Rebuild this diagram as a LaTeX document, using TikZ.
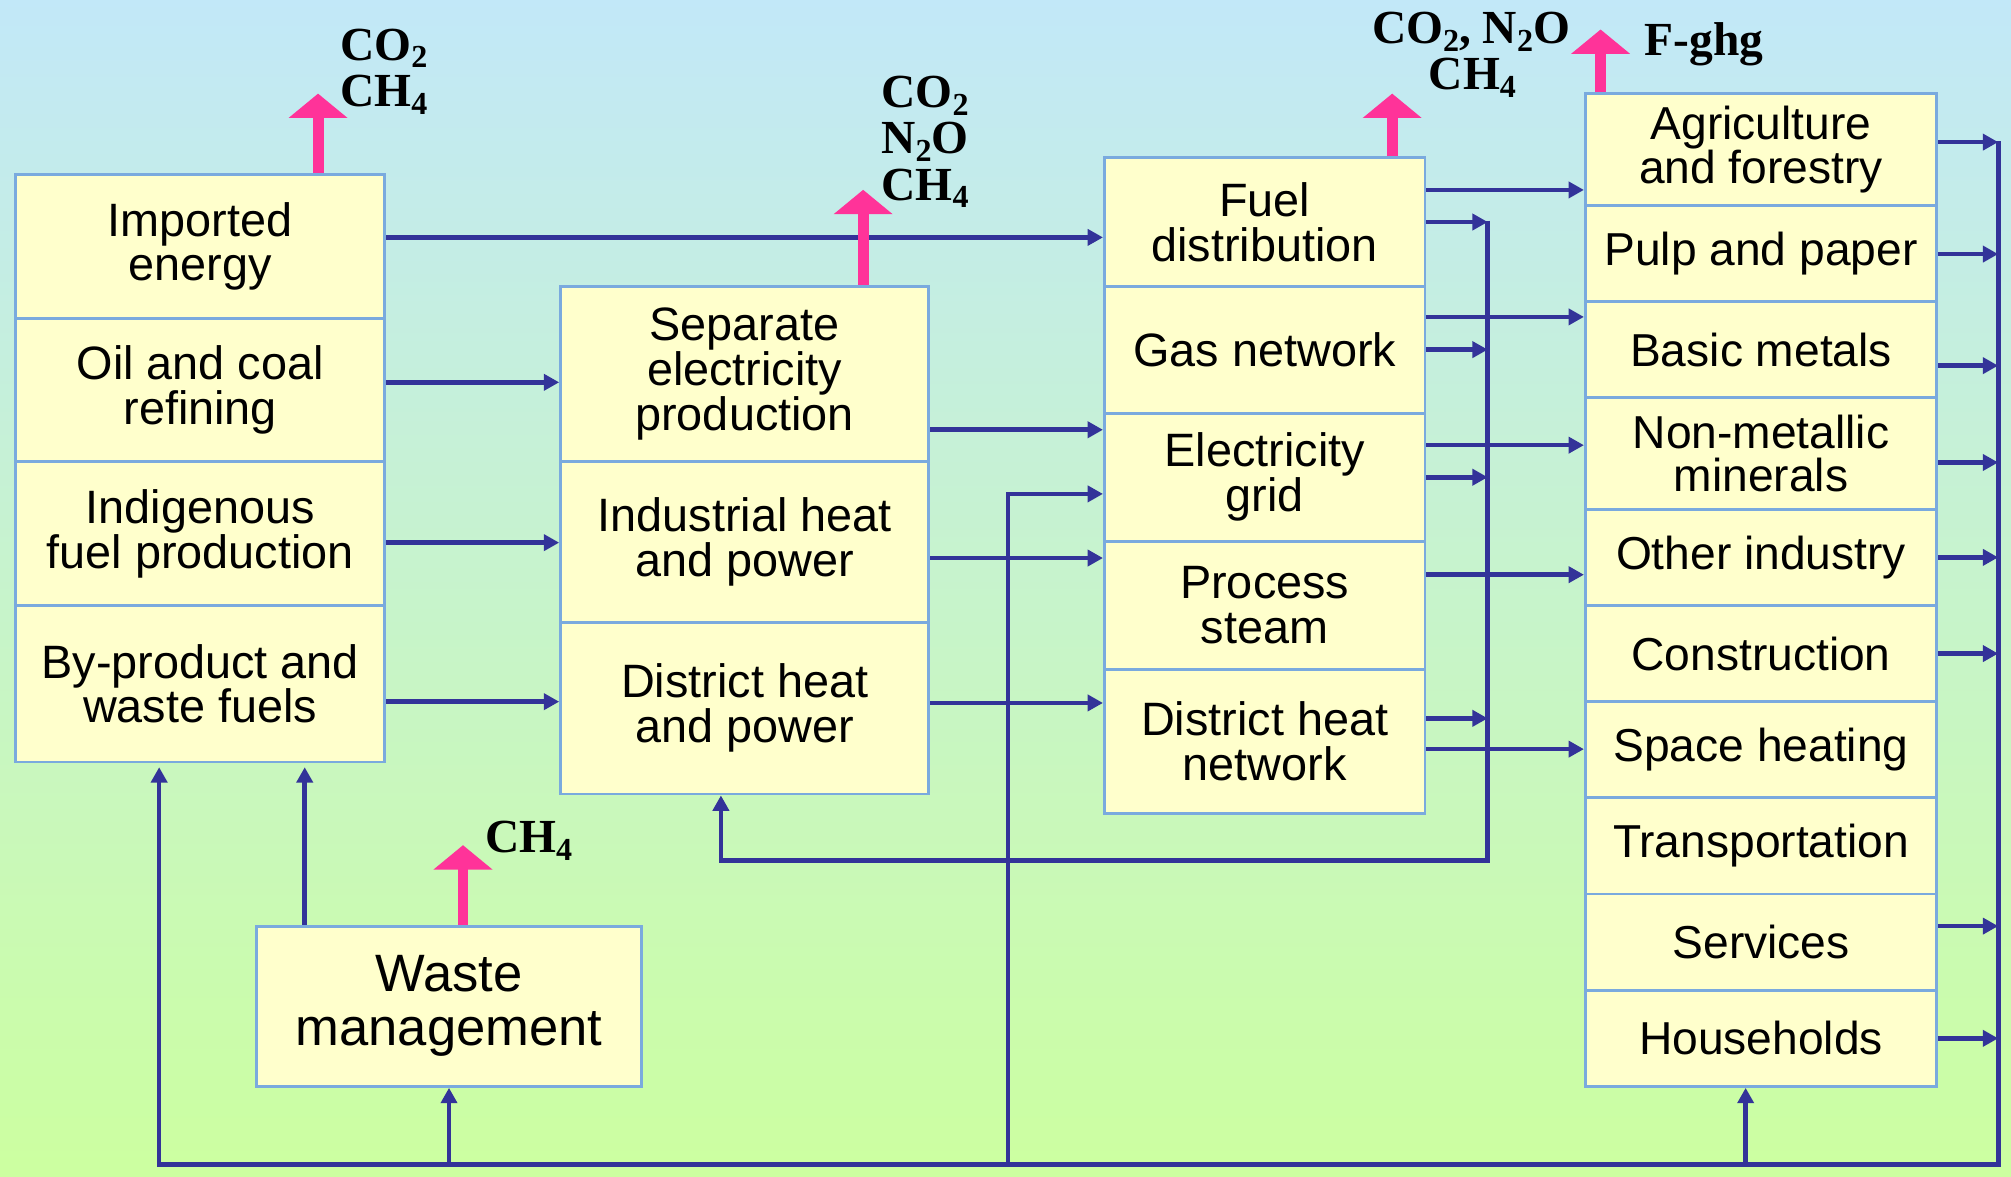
\documentclass[tikz,border=0pt]{standalone}
\usepackage{fontspec}
\setmainfont{Liberation Sans}
\newfontfamily\chemfont{Liberation Serif}
\usetikzlibrary{arrows.meta}
\definecolor{bgtop}{RGB}{194,232,248}
\definecolor{bgbot}{RGB}{204,255,160}
\definecolor{cellfill}{RGB}{255,255,204}
\definecolor{cellline}{RGB}{122,170,222}
\definecolor{flow}{RGB}{51,51,153}
\definecolor{emit}{RGB}{255,51,153}
\newcommand\chsub[1]{\raisebox{-6pt}{\fontsize{25}{25}\selectfont #1}}
\begin{document}
\begin{tikzpicture}[x=1pt,y=-1pt,
  cell/.style={draw=cellline, fill=cellfill, line width=2.2pt, inner sep=0pt,
    anchor=north west, align=center, font=\fontsize{36.5}{35}\selectfont},
  cellR/.style={cell, minimum width=274pt, font=\fontsize{36}{34}\selectfont},
  flowline/.style={draw=flow, line width=3.6pt},
  arr/.style={flowline, -{Triangle[length=12pt,width=12.5pt]}},
  emis/.style={draw=emit, line width=8.5pt, -{Triangle[length=19pt,width=45pt]}},
  gas/.style={font=\chemfont\bfseries\fontsize{37}{37}\selectfont, inner sep=0pt},
]
\shade[top color=bgtop, bottom color=bgbot] (0,0) rectangle (1568,917);
\useasboundingbox (0,0) rectangle (1568,917);

% column 1
\node[cell, minimum width=288pt, minimum height=112pt] (ie) at (11,135) {Imported\\energy};
\node[cell, minimum width=288pt, minimum height=112pt] (oc) at (11,247) {Oil and coal\\refining};
\node[cell, minimum width=288pt, minimum height=112pt] (ind) at (11,359) {Indigenous\\fuel production};
\node[cell, minimum width=288pt, minimum height=122pt] (bp) at (11,471) {By-product and\\waste fuels};

% column 2
\node[cell, minimum width=287pt, minimum height=137pt] (sep) at (436,222) {Separate\\electricity\\production};
\node[cell, minimum width=287pt, minimum height=125pt] (ihp) at (436,359) {Industrial heat\\and power};
\node[cell, minimum width=287pt, minimum height=134pt] (dhp) at (436,484) {District heat\\and power};

% column 3
\node[cell, minimum width=250pt, minimum height=100pt] (fd) at (860,122) {Fuel\\distribution};
\node[cell, minimum width=250pt, minimum height=99pt] (gn) at (860,222) {Gas network};
\node[cell, minimum width=250pt, minimum height=100pt] (eg) at (860,321) {Electricity\\grid};
\node[cell, minimum width=250pt, minimum height=100pt] (ps) at (860,421) {Process\\steam};
\node[cell, minimum width=250pt, minimum height=112pt] (dhn) at (860,521) {District heat\\network};

% column 4
\node[cellR, minimum height=87pt] (ag) at (1235,72) {Agriculture\\and forestry};
\node[cellR, minimum height=75pt] (pp) at (1235,159) {Pulp and paper};
\node[cellR, minimum height=75pt] (bm) at (1235,234) {Basic metals};
\node[cellR, minimum height=87pt] (nm) at (1235,309) {Non-metallic\\minerals};
\node[cellR, minimum height=75pt] (oi) at (1235,396) {Other industry};
\node[cellR, minimum height=75pt] (con) at (1235,471) {Construction};
\node[cellR, minimum height=75pt] (sh) at (1235,546) {Space heating};
\node[cellR, minimum height=75pt] (tr) at (1235,621) {Transportation};
\node[cellR, minimum height=75pt] (sv) at (1235,696) {Services};
\node[cellR, minimum height=75pt] (hh) at (1235,771) {Households};

% waste
\node[cell, minimum width=300pt, minimum height=125pt, font=\fontsize{41}{42}\selectfont] (wm) at (199,721) {Waste\\management};

% column 1 -> 2 / 3
\draw[arr] ([yshift=7pt]ie.east) -- ([yshift=7pt]ie.east -| fd.west);
\draw[arr] ([yshift=6pt]oc.east) -- ([yshift=6pt]oc.east -| sep.west);
\draw[arr] ([yshift=-7pt]ind.east) -- ([yshift=-7pt]ind.east -| ihp.west);
\draw[arr] ([yshift=-14pt]bp.east) -- ([yshift=-14pt]bp.east -| dhp.west);

% column 2 -> 3
\draw[arr] ([yshift=-43.5pt]sep.east) -- ([yshift=-43.5pt]sep.east -| eg.west);
\draw[arr] ([yshift=-12.5pt]ihp.east) -- ([yshift=-12.5pt]ihp.east -| ps.west);
\draw[arr] ([yshift=4pt]dhp.east) -- ([yshift=4pt]dhp.east -| dhn.west);

% middle return bus
\coordinate (busMtop) at (1160,172);
\coordinate (busMbot) at (1160,671);
\draw[arr] (fd.east) -- (fd.east -| busMtop);
\draw[arr] (gn.east) -- (gn.east -| busMtop);
\draw[arr] (eg.east) -- (eg.east -| busMtop);
\draw[arr] ([yshift=18pt]dhn.east) -- ([yshift=18pt]dhn.east -| busMtop);
\draw[arr] (busMtop) -- (busMbot) -| ([xshift=-18.5pt]dhp.south);

% column 3 -> 4
\draw[arr] ([yshift=25pt]fd.east) -- ([yshift=25pt]fd.east -| ag.west);
\draw[arr] ([yshift=25.5pt]gn.east) -- ([yshift=25.5pt]gn.east -| bm.west);
\draw[arr] ([yshift=25pt]eg.east) -- ([yshift=25pt]eg.east -| nm.west);
\draw[arr] ([yshift=24pt]ps.east) -- ([yshift=24pt]ps.east -| oi.west);
\draw[arr] ([yshift=-6pt]dhn.east) -- ([yshift=-6pt]dhn.east -| sh.west);

% right bus
\coordinate (busRtop) at (1558,110);
\coordinate (busRbot) at (1558,908);
\draw[arr] ([yshift=5.8pt]ag.east) -- ([yshift=5.8pt]ag.east -| busRtop);
\draw[arr] ([yshift=-0.5pt]pp.east) -- ([yshift=-0.5pt]pp.east -| busRtop);
\draw[arr] ([yshift=-12.5pt]bm.east) -- ([yshift=-12.5pt]bm.east -| busRtop);
\draw[arr] ([yshift=-7pt]nm.east) -- ([yshift=-7pt]nm.east -| busRtop);
\draw[arr] (oi.east) -- (oi.east -| busRtop);
\draw[arr] (con.east) -- (con.east -| busRtop);
\draw[arr] ([yshift=12.5pt]sv.east) -- ([yshift=12.5pt]sv.east -| busRtop);
\draw[arr] (hh.east) -- (hh.east -| busRtop);
\draw[arr, shorten >=3pt] (busRtop) -- (busRbot) -| ([xshift=-32pt]bp.south);

% branches from bottom bus
\coordinate (tapE) at (786,908);
\draw[arr] (wm.south |- busRbot) -- (wm.south);
\draw[arr] (tapE) |- ([yshift=-13pt]eg.west);
\draw[arr] ([xshift=-12pt]hh.south |- busRbot) -- ([xshift=-12pt]hh.south);
\draw[arr, shorten >=3pt] ([xshift=-112.5pt]wm.north) -- ([xshift=-112.5pt]wm.north |- bp.south);

% emissions
\coordinate (tipA) at (248,73);
\coordinate (tipB) at (673,148);
\coordinate (tipC) at (1085.5,73);
\coordinate (tipD) at (1248,23);
\coordinate (tipE) at (361,659);
\draw[emis] (tipA |- ie.north) -- (tipA);
\draw[emis] (tipB |- sep.north) -- (tipB);
\draw[emis] (tipC |- fd.north) -- (tipC);
\draw[emis] (tipD |- ag.north) -- (tipD);
\draw[emis] (tipE |- wm.north) -- (tipE);

\node[gas, anchor=base west] (gA1) at (265,47) {CO\chsub{2}};
\node[gas, anchor=base west] (gA2) at (265,83) {CH\chsub{4}};
\node[gas, anchor=base west] (gB1) at (687,84) {CO\chsub{2}};
\node[gas, anchor=base west] (gB2) at (687,120) {N\chsub{2}O};
\node[gas, anchor=base west] (gB3) at (687,156) {CH\chsub{4}};
\node[gas, anchor=base] (gC1) at (1147,34) {CO\chsub{2}, N\chsub{2}O};
\node[gas, anchor=base] (gC2) at (1148,70) {CH\chsub{4}};
\node[gas, anchor=base west] (gD) at (1282,43) {F-ghg};
\node[gas, anchor=base west] (gE) at (378,665) {CH\chsub{4}};
\end{tikzpicture}
\end{document}
